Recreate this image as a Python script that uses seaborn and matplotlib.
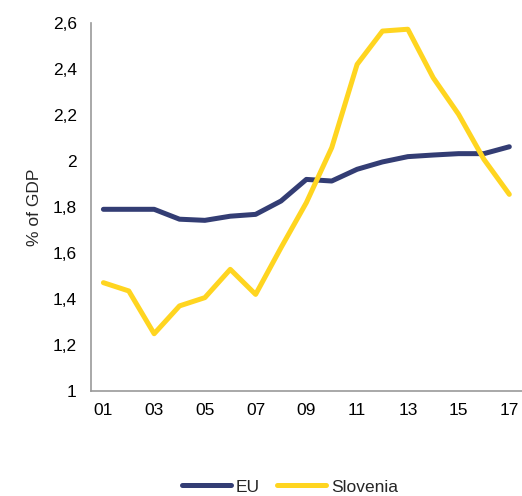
import matplotlib
matplotlib.use("Agg")
import matplotlib.pyplot as plt
import seaborn as sns
import pandas as pd
from matplotlib.lines import Line2D

years = list(range(2001, 2018))
eu = [1.79, 1.79, 1.79, 1.747, 1.742, 1.76, 1.768, 1.826, 1.92, 1.913,
      1.964, 1.996, 2.019, 2.026, 2.032, 2.032, 2.062]
slovenia = [1.471, 1.435, 1.249, 1.37, 1.406, 1.529, 1.42, 1.623, 1.819, 2.058,
            2.42, 2.565, 2.573, 2.362, 2.203, 2.007, 1.855]
series_names = ["EU", "Slovenia"]
colors = ["#333D74", "#FFD520"]
x_ticks = list(range(2001, 2018, 2))
x_ticklabels = ["01", "03", "05", "07", "09", "11", "13", "15", "17"]
y_ticks = [1.0, 1.2, 1.4, 1.6, 1.8, 2.0, 2.2, 2.4, 2.6]
y_ticklabels = ["1", "1,2", "1,4", "1,6", "1,8", "2", "2,2", "2,4", "2,6"]

sns.set_style("white")
plt.rcParams["font.family"] = ["Liberation Sans", "DejaVu Sans"]

df = pd.DataFrame({
    "year": years * 2,
    "value": eu + slovenia,
    "series": [series_names[0]] * len(years) + [series_names[1]] * len(years),
})

fs = 12.5
fig = plt.figure(figsize=(5.22, 4.96), dpi=100)
ax = fig.add_axes([0.1738, 0.2117, 0.8262, 0.7419])
sns.lineplot(data=df, x="year", y="value", hue="series", palette=colors,
             linewidth=3.6, ax=ax, legend=False, solid_capstyle="round")

ax.set_xlim(2000.5, 2017.5)
ax.set_ylim(1.0, 2.6)
ax.set_xticks(x_ticks)
ax.set_xticklabels(x_ticklabels)
ax.set_yticks(y_ticks)
ax.set_yticklabels(y_ticklabels)
ax.tick_params(axis="both", length=0, labelsize=fs, colors="black")
ax.tick_params(axis="y", pad=10)
ax.tick_params(axis="x", pad=9)
ax.set_xlabel("")
ax.set_ylabel("% of GDP", fontsize=fs, labelpad=8)
for side in ["top", "right"]:
    ax.spines[side].set_visible(False)
for side in ["left", "bottom"]:
    ax.spines[side].set_color("#999999")
    ax.spines[side].set_linewidth(1.2)

handles = [Line2D([0], [0], color=c, linewidth=3.6, solid_capstyle="round") for c in colors]
fig.legend(handles, series_names, loc="center", bbox_to_anchor=(290 / 522, 1 - 487 / 496),
           ncol=2, frameon=False, fontsize=fs, handlelength=2.8, handletextpad=0.3,
           columnspacing=1.0)

fig.savefig("out.png", dpi=100)
